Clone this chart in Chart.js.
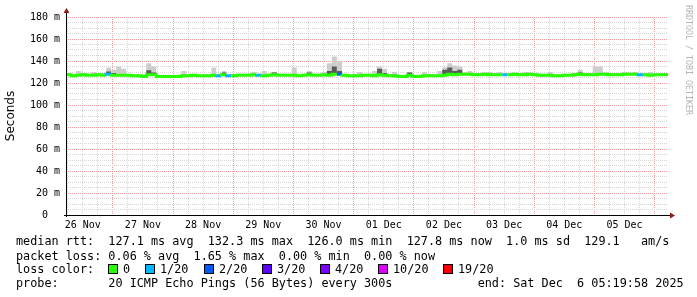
<!DOCTYPE html>
<html>
<head>
<meta charset="utf-8">
<script src="https://cdn.jsdelivr.net/npm/chart.js@4/dist/chart.umd.min.js"></script>
<style>
  body { margin: 0; background: #fff; }
  #wrap { position: relative; width: 697px; height: 297px; overflow: hidden; }
  #chart { position: absolute; left: 0; top: 0; }
  .lg { position: absolute; left: 16px; font-family: "DejaVu Sans Mono", monospace; font-size: 11.8px; line-height: 14px; white-space: pre; color: #000; }
  .box { position: absolute; width: 8px; height: 8px; border: 1px solid #000; }
  .lbl { position: absolute; font-family: "DejaVu Sans Mono", monospace; font-size: 11.8px; line-height: 14px; white-space: pre; }
  #credit { position: absolute; left: 684px; top: 5px; writing-mode: vertical-rl; font-family: "DejaVu Sans Mono", monospace; font-size: 8.3px; color: #b4b4b4; white-space: pre; }
</style>
</head>
<body>
<div id="wrap">
  <canvas id="chart" width="697" height="297"></canvas>
  <div id="credit">RRDTOOL / TOBI OETIKER</div>
  <div class="lg" style="top:234px">median rtt:  127.1 ms avg  132.3 ms max  126.0 ms min  127.8 ms now  1.0 ms sd  129.1   am/s</div>
  <div class="lg" style="top:249px">packet loss: 0.06 % avg  1.65 % max  0.00 % min  0.00 % now</div>
  <div class="lg" style="top:262px">loss color:</div>
  <div id="lossKey"></div>
  <div class="lg" style="top:276px">probe:       20 ICMP Echo Pings (56 Bytes) every 300s            end: Sat Dec  6 05:19:58 2025</div>
</div>
<script>
// time axis: hours since 26 Nov 00:00, graph covers 10 days ending Dec 6 05:20
const startHour = 5 + 20 / 60;
const endHour = startHour + 240;
const binHours = 2;

const dayLabels = ['26 Nov', '27 Nov', '28 Nov', '29 Nov', '30 Nov', '01 Dec', '02 Dec', '03 Dec', '04 Dec', '05 Dec'];

// median rtt per 2h bin (ms)
const median = [
  127.5, 127.5, 126.5, 127, 127.5, 127, 127, 127.5, 127, 128,
  127, 127, 127, 127, 126.5, 126.5, 126, 127.5, 127.5, 126,
  126, 126, 126, 126, 126.5, 126.5, 127, 126.5, 126.5, 126.5,
  127, 126.5, 127.5, 126.5, 126.5, 127, 127, 127, 127.5, 127,
  126.5, 127, 127.5, 127, 127, 127, 127, 126.5, 127, 127.5,
  127, 127, 127.5, 127, 128, 128, 127, 126.5, 126.5, 126.5,
  127, 127, 126.5, 127.5, 127, 126.5, 126.5, 126, 126, 127,
  126, 126, 126.5, 126.5, 126.5, 126.5, 127, 128, 127.5, 128,
  128, 128, 127.5, 127.5, 128, 127.5, 127.5, 127.5, 127.5, 127.5,
  128, 127.5, 127.5, 128, 127.5, 127, 127, 127, 126.5, 126.5,
  127, 127, 127.5, 128, 127.5, 127.5, 127.5, 128, 128, 127.5,
  127.5, 127.5, 128, 128, 128, 127.5, 127.5, 127, 127.5, 127.5
];

// outer smoke (slowest ping of the bin, ms)
const smokeMax = [
  129, 129, 128, 131, 129, 128.5, 130, 129, 129, 134,
  132, 135, 133, 128.5, 128, 128, 127.5, 138, 135, 127.5,
  127.5, 127.5, 127.5, 127.5, 131, 128, 128.5, 128, 128, 128,
  134, 128, 131, 128, 128, 128.5, 128.5, 128.5, 130, 128.5,
  131, 128.5, 130, 128.5, 128.5, 128.5, 134, 128, 128.5, 131,
  128.5, 128.5, 130, 138, 144, 140, 128.5, 128, 128, 130,
  128.5, 128.5, 131, 135, 133, 128, 130, 127.5, 127.5, 130,
  127.5, 127.5, 130, 128, 128, 131, 134, 138, 136, 135,
  129.5, 131, 129, 129, 129.5, 130, 129, 130, 129, 129,
  129.5, 129, 130, 129.5, 129, 128.5, 128.5, 130, 128, 128,
  128.5, 128.5, 129, 132, 129, 129, 135, 135, 129.5, 129,
  129, 129, 130, 129.5, 130, 129, 129, 130, 129, 129
];

// dense smoke (most pings of the bin, ms)
const smokeDense = [
  127.5, 127.5, 126.5, 127, 127.5, 127, 127, 127.5, 127, 130.5,
  129, 127, 127, 127, 126.5, 126.5, 126, 131.5, 129.5, 126,
  126, 126, 126, 126, 126.5, 126.5, 127, 126.5, 126.5, 126.5,
  127, 126.5, 129.5, 126.5, 126.5, 127, 127, 127, 127.5, 127,
  126.5, 127, 129.5, 127, 127, 127, 127, 126.5, 127, 129.5,
  127, 127, 127.5, 131, 135, 131, 127, 126.5, 126.5, 126.5,
  127, 127, 126.5, 133, 129, 126.5, 126.5, 126, 126, 129.5,
  126, 126, 126.5, 126.5, 126.5, 126.5, 132, 134, 131, 132,
  128, 128, 127.5, 127.5, 128, 127.5, 127.5, 127.5, 127.5, 127.5,
  128, 127.5, 127.5, 128, 127.5, 127, 127, 127, 126.5, 126.5,
  127, 127, 127.5, 129.5, 127.5, 127.5, 127.5, 128, 128, 127.5,
  127.5, 127.5, 128, 128, 128, 127.5, 127.5, 127, 127.5, 127.5
];

// lost pings (out of 20) per bin, as index into lossColors
const lossLevel = [
  0, 0, 0, 0, 0, 0, 0, 0, 1, 0,
  0, 0, 0, 0, 0, 0, 0, 0, 0, 0,
  0, 0, 0, 0, 0, 0, 0, 0, 0, 0,
  1, 0, 1, 0, 0, 0, 0, 0, 1, 0,
  0, 0, 0, 0, 0, 0, 0, 0, 0, 0,
  0, 0, 0, 0, 2, 0, 0, 0, 0, 0,
  0, 0, 0, 0, 0, 0, 0, 0, 0, 0,
  0, 0, 0, 0, 0, 0, 0, 0, 0, 0,
  0, 0, 0, 0, 0, 0, 0, 1, 0, 0,
  0, 0, 0, 0, 0, 0, 0, 0, 0, 0,
  0, 0, 0, 0, 0, 0, 0, 0, 0, 0,
  0, 0, 0, 0, 1, 0, 0, 0, 0, 0
];

const lossLabels = ['0', '1/20', '2/20', '3/20', '4/20', '10/20', '19/20'];
const lossColors = ['#26ff00', '#00b8ff', '#0059ff', '#5e00ff', '#7e00ff', '#dd00ff', '#ff0000'];
const lossKeyX = [108, 145, 204, 262, 320, 378, 443];

// loss colour key
const key = document.getElementById('lossKey');
lossLabels.forEach((l, i) => {
  const b = document.createElement('div');
  b.className = 'box';
  b.style.left = lossKeyX[i] + 'px';
  b.style.top = '264px';
  b.style.background = lossColors[i];
  key.appendChild(b);
  const t = document.createElement('div');
  t.className = 'lbl';
  t.style.left = (lossKeyX[i] + 15) + 'px';
  t.style.top = '262px';
  t.textContent = l;
  key.appendChild(t);
});

function toPoints(arr) {
  const pts = arr.map((v, i) => ({ x: startHour + i * binHours, y: v }));
  pts.push({ x: endHour, y: arr[arr.length - 1] });
  return pts;
}

const MAJOR = '#f29a9a';
const MINOR = '#d6d6d6';

const axesPlugin = {
  id: 'rrdAxes',
  afterDraw(chart) {
    const { ctx, chartArea: a } = chart;
    ctx.save();
    ctx.strokeStyle = '#000';
    ctx.lineWidth = 1;
    ctx.beginPath();
    ctx.moveTo(a.left - 2, a.bottom + 0.5);
    ctx.lineTo(a.right + 2, a.bottom + 0.5);
    ctx.moveTo(a.left + 0.5, a.bottom + 2);
    ctx.lineTo(a.left + 0.5, a.top - 4);
    ctx.stroke();
    ctx.fillStyle = '#8b1a1a';
    ctx.beginPath();
    ctx.moveTo(a.right + 2, a.bottom + 0.5 - 3);
    ctx.lineTo(a.right + 7, a.bottom + 0.5);
    ctx.lineTo(a.right + 2, a.bottom + 0.5 + 3);
    ctx.closePath();
    ctx.fill();
    ctx.beginPath();
    ctx.moveTo(a.left + 0.5 - 3, a.top - 4);
    ctx.lineTo(a.left + 0.5, a.top - 9);
    ctx.lineTo(a.left + 0.5 + 3, a.top - 4);
    ctx.closePath();
    ctx.fill();
    ctx.restore();
  }
};

new Chart(document.getElementById('chart'), {
  type: 'line',
  data: {
    datasets: [
      {
        label: 'median',
        data: toPoints(median),
        stepped: 'after',
        borderWidth: 3,
        borderColor: lossColors[0],
        segment: { borderColor: c => lossColors[lossLevel[c.p0DataIndex]] || lossColors[0] },
        pointRadius: 0,
        fill: false,
        order: 0
      },
      {
        label: 'dense smoke',
        data: toPoints(smokeDense),
        stepped: 'after',
        borderWidth: 0,
        pointRadius: 0,
        backgroundColor: '#5a5a5a',
        fill: '-1',
        order: 1
      },
      {
        label: 'smoke',
        data: toPoints(smokeMax),
        stepped: 'after',
        borderWidth: 0,
        pointRadius: 0,
        backgroundColor: '#cdcdcd',
        fill: '-2',
        order: 2
      }
    ]
  },
  options: {
    responsive: false,
    animation: false,
    events: [],
    layout: { padding: { left: 0, right: 29, top: 17, bottom: 60 } },
    plugins: { legend: { display: false }, tooltip: { enabled: false } },
    scales: {
      x: {
        type: 'linear',
        min: startHour,
        max: endHour,
        afterBuildTicks: s => {
          const t = [];
          for (let h = 6; h < endHour; h += 6) t.push({ value: h });
          s.ticks = t;
        },
        afterFit: s => { s.height = 22; },
        grid: {
          drawTicks: false,
          color: c => (c.tick && c.tick.value % 24 === 0) ? MAJOR : MINOR,
          lineWidth: 1
        },
        border: { display: false, dash: [1, 1] },
        ticks: {
          autoSkip: false,
          maxRotation: 0,
          padding: 4,
          color: '#000',
          font: { family: 'DejaVu Sans Mono', size: 10 },
          callback: v => (v % 24 === 12) ? dayLabels[Math.floor(v / 24)] : ''
        }
      },
      y: {
        min: 0,
        max: 180,
        afterFit: s => { s.width = 66; },
        grid: {
          drawTicks: false,
          color: c => (c.tick && c.tick.value % 20 === 0) ? MAJOR : MINOR,
          lineWidth: 1
        },
        border: { display: false, dash: [1, 1] },
        title: {
          display: true,
          text: 'Seconds',
          color: '#000',
          font: { family: 'DejaVu Sans', size: 12 },
          padding: { top: 4, bottom: 0 }
        },
        ticks: {
          stepSize: 5,
          autoSkip: false,
          padding: 6,
          color: '#000',
          font: { family: 'DejaVu Sans Mono', size: 10 },
          callback: v => v % 20 !== 0 ? '' : (v === 0 ? '0  ' : v + ' m')
        }
      }
    }
  },
  plugins: [axesPlugin]
});
</script>
</body>
</html>
